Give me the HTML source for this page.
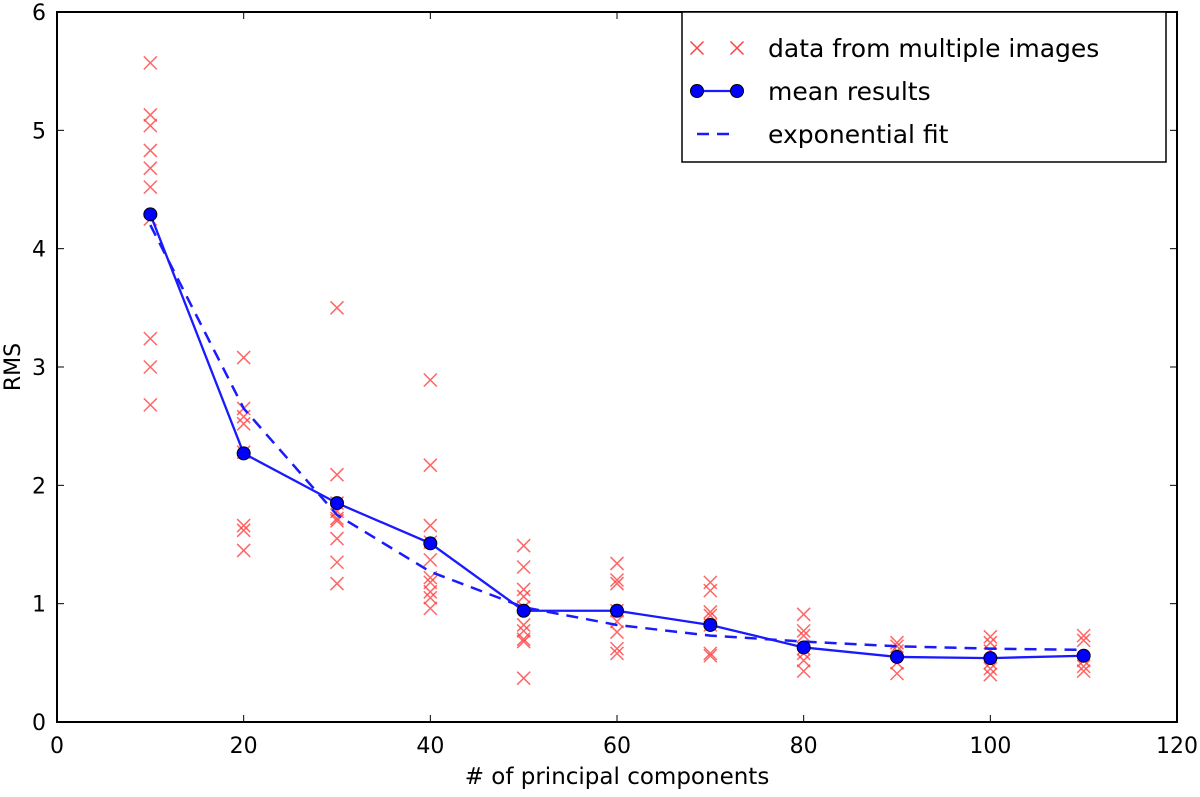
<!DOCTYPE html>
<html><head><meta charset="utf-8"><style>
body{margin:0;background:#fff}
svg{font-family:"DejaVu Sans","Liberation Sans",sans-serif}
</style></head><body>
<svg id="c" width="1200" height="792"></svg>
<script>
const xTicks=[0,20,40,60,80,100,120];
const yTicks=[0,1,2,3,4,5,6];
const meanX=[10,20,30,40,50,60,70,80,90,100,110];
const meanY=[4.29,2.27,1.85,1.51,0.94,0.94,0.82,0.63,0.55,0.54,0.56];
const fitY=[4.2,2.65,1.75,1.27,0.97,0.82,0.73,0.68,0.64,0.62,0.61];
const scatter=[
[5.57,5.13,5.04,4.83,4.68,4.52,4.25,3.24,3.00,2.68],
[3.08,2.65,2.58,2.52,2.28,1.66,1.62,1.45],
[3.50,2.09,1.85,1.78,1.72,1.70,1.55,1.35,1.17],
[2.89,2.17,1.66,1.52,1.37,1.22,1.18,1.10,1.05,0.96],
[1.49,1.31,1.12,1.06,0.97,0.82,0.77,0.70,0.68,0.37],
[1.34,1.20,1.17,0.94,0.85,0.76,0.62,0.58],
[1.18,1.11,0.93,0.90,0.82,0.58,0.56],
[0.91,0.77,0.73,0.62,0.58,0.52,0.43],
[0.67,0.64,0.60,0.50,0.41],
[0.72,0.67,0.60,0.50,0.45,0.40],
[0.73,0.69,0.52,0.47,0.43]];
const L=57,R=1177,T=12,B=722;
const sx=v=>L+(v-0)/120*(R-L), sy=v=>B-(v/6)*(B-T);
const svg=document.getElementById('c'),NS='http://www.w3.org/2000/svg';
function mk(t,a,p){const e=document.createElementNS(NS,t);for(const k in a)e.setAttribute(k,a[k]);(p||svg).appendChild(e);return e;}
const gs=mk('g',{});


scatter.forEach((col,i)=>col.forEach(v=>{const x=sx(meanX[i]),y=sy(v),d=6.5;
 const p=mk('path',{d:`M${x-d},${y-d}L${x+d},${y+d}M${x-d},${y+d}L${x+d},${y-d}`,stroke:'#ff4040','stroke-width':1.5,'stroke-opacity':0.8,fill:'none'},gs);
 
 }));
const fit=mk('polyline',{points:meanX.map((x,i)=>sx(x)+','+sy(fitY[i])).join(' '),fill:'none',stroke:'#1a1aff','stroke-width':2.5,'stroke-dasharray':'12,8'});


const ml=mk('polyline',{points:meanX.map((x,i)=>sx(x)+','+sy(meanY[i])).join(' '),fill:'none',stroke:'#1a1aff','stroke-width':2.3});


meanX.forEach((x,i)=>{const c=mk('circle',{cx:sx(x),cy:sy(meanY[i]),r:6.5,fill:'#0000ff',stroke:'#000','stroke-width':1});
 
 });
const fr=mk('rect',{x:L,y:T,width:R-L,height:B-T,fill:'none',stroke:'#000','stroke-width':2});


xTicks.forEach(v=>{const x=sx(v);mk('line',{x1:x,x2:x,y1:B,y2:B-7,stroke:'#000'});mk('line',{x1:x,x2:x,y1:T,y2:T+7,stroke:'#000'});
 const t=mk('text',{x:x,y:B+31,'text-anchor':'middle','font-size':22});t.textContent=v;
 
 });
yTicks.forEach(v=>{const y=sy(v);mk('line',{x1:L,x2:L+7,y1:y,y2:y,stroke:'#000'});mk('line',{x1:R,x2:R-7,y1:y,y2:y,stroke:'#000'});
 const t=mk('text',{x:L-11,y:y+8,'text-anchor':'end','font-size':22});t.textContent=v;
 
 });
const xl=mk('text',{x:617,y:784,'text-anchor':'middle','font-size':23});xl.textContent='# of principal components';


const yl=mk('text',{x:0,y:0,transform:'translate(20,367) rotate(-90)','text-anchor':'middle','font-size':22});yl.textContent='RMS';


const lg=mk('g',{});


mk('rect',{x:682,y:12,width:484,height:150,fill:'#fff',stroke:'#000','stroke-width':1.5},lg);
[697,737].forEach(x=>{const y=48,d=6.5;mk('path',{d:`M${x-d},${y-d}L${x+d},${y+d}M${x-d},${y+d}L${x+d},${y-d}`,stroke:'#ff4040','stroke-width':1.5},lg);});
mk('line',{x1:697,x2:737,y1:91,y2:91,stroke:'#1a1aff','stroke-width':2.3},lg);
mk('circle',{cx:697,cy:91,r:6.5,fill:'#00f',stroke:'#000'},lg);mk('circle',{cx:737,cy:91,r:6.5,fill:'#00f',stroke:'#000'},lg);
mk('line',{x1:697,x2:737,y1:134,y2:134,stroke:'#1a1aff','stroke-width':2.5,'stroke-dasharray':'12,8'},lg);
['data from multiple images','mean results','exponential fit'].forEach((s,i)=>{const t=mk('text',{x:768,y:57+i*43,'font-size':25},lg);t.textContent=s;
 
 });
</script>
</body></html>
